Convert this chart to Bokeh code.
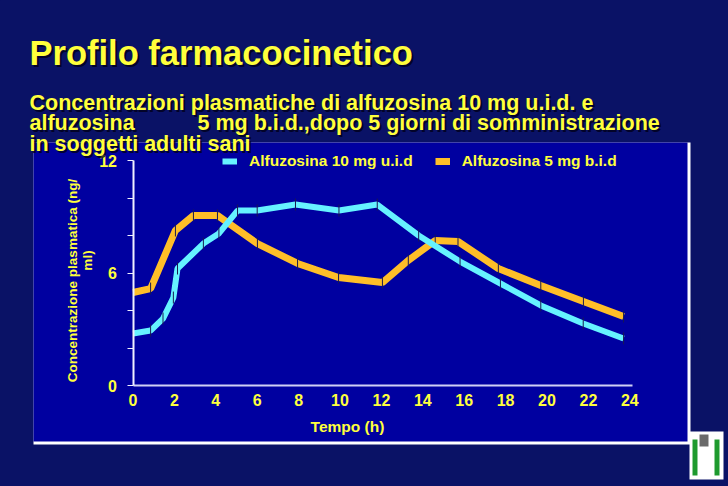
import math
from bokeh.plotting import figure
from bokeh.models import Label, BoxAnnotation, FixedTicker, Range1d, GlobalInlineStyleSheet
from bokeh.embed import file_html
from bokeh.resources import INLINE

# ---------------- data ----------------
hours_10mg = [0, 0.85, 1.45, 1.95, 2.15, 3.4, 4.15, 5.05, 6.0, 7.85, 9.95, 11.8,
              13.8, 15.8, 17.75, 19.7, 21.75, 23.7]
conc_10mg = [2.77, 2.93, 3.57, 4.69, 6.24, 7.57, 8.11, 9.33, 9.33, 9.65, 9.33, 9.65,
             8.0, 6.61, 5.44, 4.27, 3.31, 2.51]
hours_5mg = [0, 0.85, 2.05, 2.92, 4.08, 6.01, 7.95, 9.93, 12.05, 13.3, 14.6, 15.7,
             17.65, 19.7, 21.76, 23.7]
conc_5mg = [4.96, 5.17, 8.27, 9.07, 9.07, 7.57, 6.51, 5.76, 5.49, 6.67, 7.73, 7.68,
            6.24, 5.33, 4.48, 3.68]
x_ticks = [0, 2, 4, 6, 8, 10, 12, 14, 16, 18, 20, 22, 24]
y_ticks = [0, 6, 12]
y_minor_ticks = [2, 4, 8, 10]
series_names = ["Alfuzosina 10 mg u.i.d", "Alfuzosina 5 mg b.i.d"]

title_text = "Profilo farmacocinetico"
subtitle_lines = ["Concentrazioni plasmatiche di alfuzosina 10 mg u.i.d. e",
                  "alfuzosina",
                  "5 mg b.i.d.,dopo 5 giorni di somministrazione",
                  "in soggetti adulti sani"]
x_label_text = "Tempo (h)"
y_label_lines = ["Concentrazione plasmatica (ng/", "ml)"]

# ---------------- layout ----------------
W, H = 728, 486
X0 = 132.5          # canvas x of t = 0
PXH = 20.7          # px per hour
Y0 = 101.0          # canvas px from bottom of value 0
PXV = 18.75         # px per ng/ml

BG = "#0A1266"
PANEL = "#0000A0"
YELLOW = "#FFFF3C"
CYAN = "#66F2FF"
ORANGE = "#FFBE28"
FONT = "Liberation Sans"

def sx(px):  # page x -> screen x
    return px

def sy(py):  # page y -> screen y (from bottom)
    return H - py

p = figure(width=W, height=H, output_backend="svg", toolbar_location=None,
           x_range=Range1d(-X0 / PXH, (W - X0) / PXH),
           y_range=Range1d(-Y0 / PXV, (H - Y0) / PXV),
           min_border=0, min_border_left=0, min_border_right=0,
           min_border_top=0, min_border_bottom=0)
p.stylesheets = [GlobalInlineStyleSheet(css="html, body { background-color: %s; }" % BG)]
p.background_fill_color = BG
p.border_fill_color = BG
p.outline_line_color = None
p.xgrid.visible = False
p.ygrid.visible = False

def box(l, r, t, b, color):
    p.add_layout(BoxAnnotation(left=sx(l), right=sx(r), top=sy(t), bottom=sy(b),
                               left_units="screen", right_units="screen",
                               top_units="screen", bottom_units="screen",
                               fill_color=color, fill_alpha=1, line_alpha=0, level="underlay"))

# panel with white shadow edge
box(33, 690, 142, 444, "white")
box(33, 687, 142, 441, PANEL)

# logo
box(689, 723, 431, 479, "white")
box(692, 697, 439, 475, "#1E9A2E")
box(714, 719, 439, 475, "#1E9A2E")
box(699, 708, 434, 446, "#6A6A6A")

# axes
p.xaxis.fixed_location = 0
p.yaxis.fixed_location = 0
p.xaxis.bounds = (0, 24.15)
p.yaxis.bounds = (0, 12)
p.xaxis.ticker = FixedTicker(ticks=x_ticks)
p.yaxis.ticker = FixedTicker(ticks=y_ticks, minor_ticks=y_minor_ticks)
p.xaxis.axis_line_color = "#D0D0F4"
p.yaxis.axis_line_color = "#F0F0FF"
for ax in (p.xaxis, p.yaxis):
    ax.axis_line_width = 2
    ax.major_label_text_color = YELLOW
    ax.major_label_text_font = FONT
    ax.major_label_text_font_size = "16px"
    ax.major_label_text_font_style = "bold"
p.xaxis.major_tick_out = 0
p.xaxis.major_tick_in = 0
p.xaxis.minor_tick_out = 0
p.xaxis.minor_tick_in = 0
p.xaxis.major_label_standoff = 8
p.yaxis.major_tick_line_color = "#F0F0FF"
p.yaxis.minor_tick_line_color = "#F0F0FF"
p.yaxis.major_tick_line_width = 1
p.yaxis.minor_tick_line_width = 1
p.yaxis.major_tick_out = 6
p.yaxis.major_tick_in = 0
p.yaxis.minor_tick_out = 6
p.yaxis.minor_tick_in = 0
p.yaxis.major_label_standoff = 10

# series
p.line(hours_5mg, conc_5mg, line_color=ORANGE, line_width=7, legend_label=series_names[1])
p.scatter(hours_5mg, conc_5mg, marker="dash", angle=math.pi / 2, size=12,
          line_color="#1A1A50", line_width=1)
p.line(hours_10mg, conc_10mg, line_color=CYAN, line_width=6, legend_label=series_names[0])
p.scatter(hours_10mg, conc_10mg, marker="dash", angle=math.pi / 2, size=12,
          line_color="#1A1A50", line_width=1)

# legend order: 10 mg first
items = p.legend[0].items
p.legend[0].items = [items[1], items[0]]
lg = p.legend[0]
lg.orientation = "horizontal"
lg.location = (sx(222), sy(171))
lg.background_fill_alpha = 0
lg.border_line_alpha = 0
lg.padding = 0
lg.margin = 0
lg.spacing = 22
lg.glyph_width = 15
lg.glyph_height = 20
lg.label_height = 20
lg.label_standoff = 12
lg.label_text_color = YELLOW
lg.label_text_font = FONT
lg.label_text_font_size = "15.5px"
lg.label_text_font_style = "bold"

def add_text(text, x, y, size, align="left", baseline="alphabetic", angle=0.0, shadow=True):
    if shadow:
        p.add_layout(Label(x=sx(x) + 2, y=sy(y) - 2, x_units="screen", y_units="screen",
                           text=text, text_color="#000018", text_alpha=0.8,
                           text_font=FONT, text_font_size=size, text_font_style="bold",
                           text_align=align, text_baseline=baseline, angle=angle))
    p.add_layout(Label(x=sx(x), y=sy(y), x_units="screen", y_units="screen",
                       text=text, text_color=YELLOW,
                       text_font=FONT, text_font_size=size, text_font_style="bold",
                       text_align=align, text_baseline=baseline, angle=angle))

add_text(title_text, 29, 52, "34.5px")
add_text(subtitle_lines[0], 29, 102, "21.5px")
add_text(subtitle_lines[1], 29, 122, "21.5px")
add_text(subtitle_lines[2], 197, 122, "21.5px")
add_text(subtitle_lines[3], 29, 143, "21.5px")
add_text(x_label_text, 347, 426, "15.5px", align="center", baseline="middle", shadow=False)
add_text(y_label_lines[0], 72, 280, "13.5px", align="center", baseline="middle",
         angle=math.pi / 2, shadow=False)
add_text(y_label_lines[1], 87, 260, "13.5px", align="center", baseline="middle",
         angle=math.pi / 2, shadow=False)

open("out.html", "w").write(file_html(p, INLINE))
